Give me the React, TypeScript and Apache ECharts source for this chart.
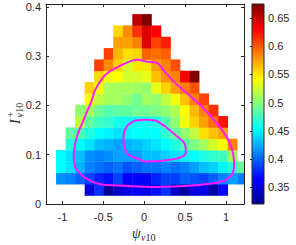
import React, { useEffect, useRef } from "react";
import * as echarts from "echarts";

// Bin centres (psi along x, I+ along y) and bin sizes
const psiCenters = [-1.019, -0.902, -0.786, -0.669, -0.553, -0.436, -0.32, -0.203, -0.087, 0.03, 0.146, 0.263, 0.379, 0.496, 0.612, 0.729, 0.845, 0.962, 1.078, 1.195];
const iCenters = [0.029, 0.052, 0.075, 0.098, 0.121, 0.144, 0.167, 0.19, 0.213, 0.236, 0.259, 0.282, 0.305, 0.328, 0.351, 0.374];
const binWidthPsi = 0.1165;
const binHeightI = 0.023;

const _ = null;
// one array per row (bottom -> top), one entry per psi bin
const row00 = [_, _, _, 0.349, 0.381, 0.322, 0.342, 0.353, 0.364, 0.353, 0.37, 0.381, 0.342, 0.326, 0.353, 0.353, 0.331, 0.364, _, _];
const row01 = [0.414, 0.409, 0.398, 0.387, 0.376, 0.37, 0.387, 0.364, 0.364, 0.36, 0.376, 0.387, 0.387, 0.398, 0.393, 0.387, 0.398, 0.409, 0.42, 0.409];
const row02 = [0.453, 0.444, 0.427, 0.409, 0.404, 0.398, 0.404, 0.393, 0.398, 0.404, 0.404, 0.409, 0.404, 0.409, 0.42, 0.431, 0.437, 0.45, 0.464, 0.486];
const row03 = [0.453, 0.444, 0.431, 0.414, 0.409, 0.414, 0.42, 0.42, 0.42, 0.431, 0.431, 0.437, 0.444, 0.45, 0.453, 0.464, 0.47, 0.475, 0.51, _];
const row04 = [_, 0.464, 0.453, 0.444, 0.431, 0.427, 0.42, 0.427, 0.431, 0.437, 0.444, 0.453, 0.464, 0.481, 0.497, 0.51, 0.527, 0.542, 0.586, _];
const row05 = [_, 0.486, 0.481, 0.464, 0.453, 0.45, 0.444, 0.45, 0.453, 0.456, 0.453, 0.47, 0.486, 0.503, 0.52, 0.553, 0.564, 0.575, _, _];
const row06 = [_, _, 0.52, 0.486, 0.475, 0.47, 0.46, 0.458, 0.456, 0.458, 0.462, 0.481, 0.503, 0.538, 0.558, 0.575, 0.592, 0.625, _, _];
const row07 = [_, _, 0.503, 0.51, 0.492, 0.481, 0.486, 0.486, 0.492, 0.492, 0.497, 0.503, 0.514, 0.542, 0.567, 0.586, 0.614, _, _, _];
const row08 = [_, _, _, 0.542, 0.52, 0.51, 0.51, 0.503, 0.492, 0.51, 0.503, 0.52, 0.538, 0.564, 0.586, 0.608, _, _, _, _];
const row09 = [_, _, _, 0.558, 0.542, 0.51, 0.51, 0.51, 0.508, 0.503, 0.534, 0.558, 0.575, 0.586, 0.603, _, _, _, _, _];
const row10 = [_, _, _, _, 0.556, 0.542, 0.54, 0.527, 0.527, 0.534, 0.564, 0.58, 0.586, 0.631, 0.675, _, _, _, _, _];
const row11 = [_, _, _, _, 0.608, 0.583, 0.558, 0.527, 0.55, 0.55, 0.575, 0.586, 0.603, _, _, _, _, _, _, _];
const row12 = [_, _, _, _, _, 0.608, 0.567, 0.553, 0.556, 0.597, 0.592, 0.597, _, _, _, _, _, _, _, _];
const row13 = [_, _, _, _, _, _, 0.575, 0.575, 0.586, 0.642, 0.608, 0.62, _, _, _, _, _, _, _, _];
const row14 = [_, _, _, _, _, _, 0.556, 0.582, 0.614, 0.642, 0.631, _, _, _, _, _, _, _, _, _];
const row15 = [_, _, _, _, _, _, _, _, 0.653, 0.675, _, _, _, _, _, _, _, _, _, _];
const cellRows = [row00, row01, row02, row03, row04, row05, row06, row07, row08, row09, row10, row11, row12, row13, row14, row15];

// Contours [psi, I+]
const outerContour = [
  [-0.841, 0.073], [-0.862, 0.097], [-0.821, 0.137], [-0.74, 0.171], [-0.638, 0.212], [-0.598, 0.232],
  [-0.476, 0.262], [-0.313, 0.279], [-0.089, 0.293], [0.033, 0.289], [0.155, 0.287], [0.235, 0.272],
  [0.357, 0.249], [0.521, 0.225], [0.704, 0.198], [0.887, 0.164], [1.028, 0.13], [1.089, 0.1],
  [1.098, 0.08], [1.07, 0.059], [0.939, 0.045], [0.622, 0.038], [0.155, 0.0345], [-0.252, 0.037],
  [-0.537, 0.04], [-0.72, 0.053], [-0.841, 0.073],
];
const innerContour = [
  [-0.11, 0.1696], [0.012, 0.171], [0.134, 0.1696], [0.256, 0.1574], [0.378, 0.1406], [0.491, 0.1237],
  [0.509, 0.1034], [0.418, 0.0933], [0.216, 0.0878], [0.012, 0.0864], [-0.049, 0.0899], [-0.191, 0.1],
  [-0.244, 0.1168], [-0.252, 0.137], [-0.211, 0.1574], [-0.11, 0.1696],
];

const xTicks = [-1, -0.5, 0, 0.5, 1];
const yTicks = [0, 0.1, 0.2, 0.3, 0.4];
const colorTicks = [0.35, 0.4, 0.45, 0.5, 0.55, 0.6, 0.65];
const colorMin = 0.32;
const colorMax = 0.675;
const jet = ["#00008F", "#0000FF", "#0080FF", "#00FFFF", "#80FF80", "#FFFF00", "#FF8000", "#FF0000", "#800000"];

export default function App() {
  const ref = useRef<HTMLDivElement>(null);
  useEffect(() => {
    document.body.style.margin = "0";
    const chart = echarts.init(ref.current!, null, { renderer: "svg" });
    const cells: number[][] = [];
    cellRows.forEach((row, r) =>
      row.forEach((v, k) => {
        if (v !== null) cells.push([psiCenters[k], iCenters[r], v as number]);
      })
    );
    const ink = "#262626";
    const font = "Liberation Sans";
    const serif = '"Liberation Serif", "DejaVu Serif", serif';
    const tickStyle = { color: ink, width: 1 };
    const label = { fontSize: 11, color: ink, fontFamily: font };

    const option: any = {
      animation: false,
      grid: [
        { left: 46, top: 4, width: 198, height: 200, show: false },
        { left: 252, top: 4, width: 12, height: 200, show: false },
      ],
      visualMap: {
        type: "continuous",
        show: false,
        seriesIndex: 0,
        dimension: 2,
        min: colorMin,
        max: colorMax,
        inRange: { color: jet },
      },
      xAxis: [
        {
          gridIndex: 0, type: "value", min: -1.2, max: 1.22, position: "bottom", z: 10,
          axisLine: { show: true, onZero: false, lineStyle: tickStyle },
          splitLine: { show: false },
          axisTick: { inside: true, length: 3, lineStyle: tickStyle, customValues: xTicks },
          axisLabel: { ...label, customValues: xTicks, margin: 7 },
        },
        {
          gridIndex: 0, type: "value", min: -1.2, max: 1.22, position: "top", z: 10,
          axisLine: { show: true, onZero: false, lineStyle: tickStyle },
          splitLine: { show: false },
          axisTick: { inside: true, length: 3, lineStyle: tickStyle, customValues: xTicks },
          axisLabel: { show: false },
        },
        { gridIndex: 1, type: "value", min: 0, max: 1, show: false },
      ],
      yAxis: [
        {
          gridIndex: 0, type: "value", min: 0, max: 0.406, position: "left", z: 10,
          axisLine: { show: true, onZero: false, lineStyle: tickStyle },
          splitLine: { show: false },
          axisTick: { inside: true, length: 3, lineStyle: tickStyle, customValues: yTicks },
          axisLabel: { ...label, customValues: yTicks, margin: 5 },
        },
        {
          gridIndex: 0, type: "value", min: 0, max: 0.406, position: "right", z: 10,
          axisLine: { show: true, onZero: false, lineStyle: tickStyle },
          splitLine: { show: false },
          axisTick: { inside: true, length: 3, lineStyle: tickStyle, customValues: yTicks },
          axisLabel: { show: false },
        },
        {
          gridIndex: 1, type: "value", min: colorMin, max: colorMax, position: "right", z: 10,
          axisLine: { show: false },
          splitLine: { show: false },
          axisTick: { inside: true, length: 2, lineStyle: tickStyle, customValues: colorTicks },
          axisLabel: { ...label, customValues: colorTicks, margin: 4 },
        },
      ],
      series: [
        {
          type: "custom",
          xAxisIndex: 0,
          yAxisIndex: 0,
          clip: true,
          data: cells,
          encode: { x: 0, y: 1 },
          renderItem: (params: any, api: any) => {
            const x = api.value(0);
            const y = api.value(1);
            const p0 = api.coord([x - binWidthPsi / 2, y + binHeightI / 2]);
            const p1 = api.coord([x + binWidthPsi / 2, y - binHeightI / 2]);
            return {
              type: "rect",
              shape: { x: p0[0], y: p0[1], width: p1[0] - p0[0] + 0.4, height: p1[1] - p0[1] + 0.4 },
              style: { fill: api.visual("color") },
            };
          },
        },
        {
          type: "line", xAxisIndex: 0, yAxisIndex: 0, data: outerContour, symbol: "none", smooth: 0.3,
          lineStyle: { color: "#FF1AFF", width: 2 },
        },
        {
          type: "line", xAxisIndex: 0, yAxisIndex: 0, data: innerContour, symbol: "none", smooth: 0.3,
          lineStyle: { color: "#FF1AFF", width: 2 },
        },
        {
          type: "custom",
          xAxisIndex: 2,
          yAxisIndex: 2,
          data: [[0, colorMin, 1, colorMax]],
          renderItem: (params: any, api: any) => {
            const p0 = api.coord([api.value(0), api.value(3)]);
            const p1 = api.coord([api.value(2), api.value(1)]);
            return {
              type: "rect",
              shape: { x: p0[0], y: p0[1], width: p1[0] - p0[0], height: p1[1] - p0[1] },
              style: {
                fill: new echarts.graphic.LinearGradient(0, 1, 0, 0,
                  jet.map((c, i) => ({ offset: i / (jet.length - 1), color: c }))),
                stroke: ink,
                lineWidth: 1,
              },
            };
          },
        },
      ],
      graphic: [
        {
          type: "group",
          children: [
            { type: "text", x: 132, y: 233, style: { text: "ψ", font: `italic 14px ${serif}`, fill: ink, textVerticalAlign: "middle" } },
            { type: "text", x: 141, y: 237.5, style: { text: "v", font: `italic 10px ${serif}`, fill: ink, textVerticalAlign: "middle" } },
            { type: "text", x: 145.6, y: 237.5, style: { text: "10", font: `10px ${serif}`, fill: ink, textVerticalAlign: "middle" } },
          ],
        },
        {
          type: "group",
          x: 15,
          y: 124,
          rotation: Math.PI / 2,
          children: [
            { type: "text", x: 0, y: 0, style: { text: "I", font: `italic 14px ${serif}`, fill: ink, textVerticalAlign: "middle" } },
            { type: "text", x: 6.5, y: -4.5, style: { text: "+", font: `10px ${serif}`, fill: ink, textVerticalAlign: "middle" } },
            { type: "text", x: 6.5, y: 4.5, style: { text: "v", font: `italic 10px ${serif}`, fill: ink, textVerticalAlign: "middle" } },
            { type: "text", x: 11.2, y: 4.5, style: { text: "10", font: `10px ${serif}`, fill: ink, textVerticalAlign: "middle" } },
          ],
        },
      ],
    };
    chart.setOption(option);
    return () => chart.dispose();
  }, []);
  return <div ref={ref} style={{ width: 296, height: 245 }} />;
}
